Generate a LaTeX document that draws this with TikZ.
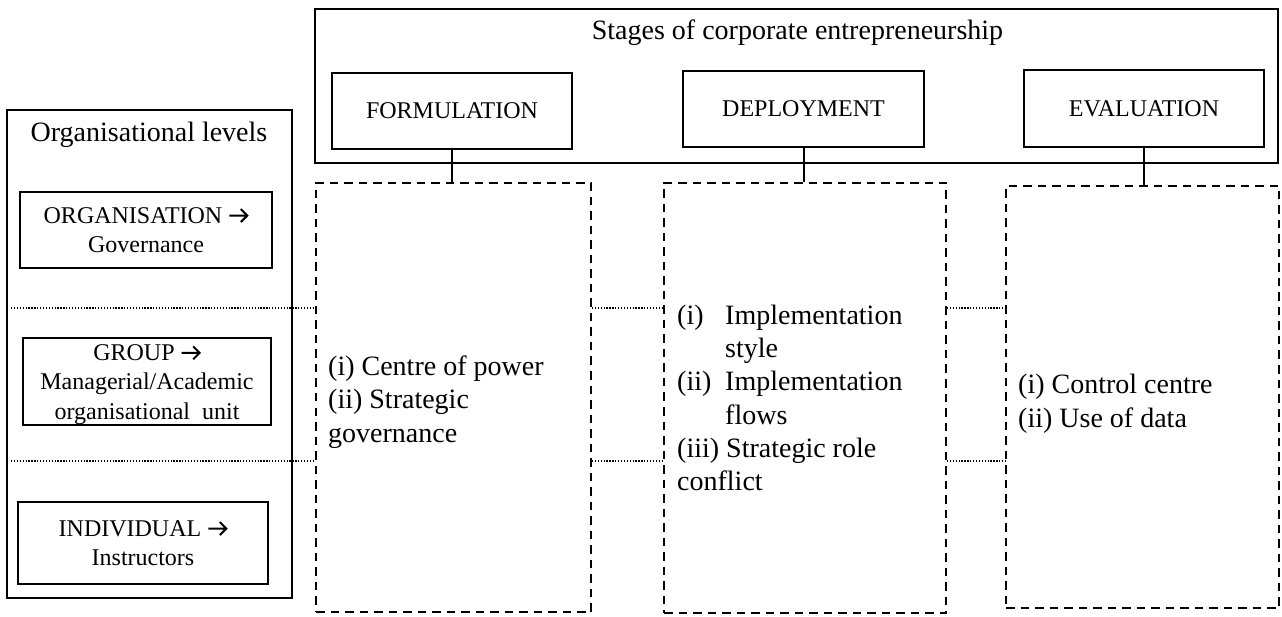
\documentclass[tikz,border=0pt]{standalone}
\usepackage{fontspec}
\setmainfont{Liberation Serif}
% open chevron arrow used after the level names
\newcommand{\chevarrow}{\tikz[baseline=0pt,x=1pt,y=1pt]{\draw[line width=2pt, line join=miter] (0,7.5) -- (18,7.5) (11.5,14) -- (18,7.5) -- (11.5,1);}}
\begin{document}
\begin{tikzpicture}[x=1pt,y=-1pt,
  solidbox/.style={draw, line width=2pt, inner sep=0pt},
  dashbox/.style={draw, line width=1.8pt, dash pattern=on 8.5pt off 6pt, inner sep=0pt},
  dotline/.style={line width=1.8pt, dash pattern=on 1.3pt off 1.6pt},
  link/.style={line width=2pt},
  big/.style={font=\fontsize{28}{33}\selectfont, inner sep=0pt},
  small/.style={font=\fontsize{24}{29.5}\selectfont, align=center, inner sep=0pt},
]
\useasboundingbox (0,0) rectangle (1282,617);

% organisational levels panel
\node[solidbox, minimum width=285pt, minimum height=488pt] (levels) at (149.5,354) {};
\node[big, anchor=base] (levtitle) at (149,142) {Organisational levels};
\node[solidbox, small, minimum width=252pt, minimum height=76pt] (org) at (146,230) {ORGANISATION \chevarrow\\Governance};
\node[solidbox, minimum width=248pt, minimum height=87pt] (group) at (147,381.5) {};
\node[small] (grouptext) at ([yshift=-3pt]group.center) {GROUP \chevarrow\\Managerial/Academic\\organisational~~unit};
\node[solidbox, small, minimum width=250pt, minimum height=82pt] (indiv) at (143,543) {INDIVIDUAL \chevarrow\\Instructors};

% stages panel
\node[solidbox, minimum width=963pt, minimum height=154pt] (stages) at (796.5,86) {};
\node[big, anchor=base] (stitle) at (797.5,40) {Stages of corporate entrepreneurship};
\node[solidbox, small, minimum width=240pt, minimum height=76pt] (form) at (452,111) {FORMULATION};
\node[solidbox, small, minimum width=241pt, minimum height=76pt] (depl) at (803.5,109) {DEPLOYMENT};
\node[solidbox, small, minimum width=240pt, minimum height=77pt] (eval) at (1144,108.5) {EVALUATION};

% dashed content boxes
\node[dashbox, minimum width=275pt, minimum height=429pt] (d1) at (453.5,397.5) {};
\node[dashbox, minimum width=282pt, minimum height=430pt] (d2) at (805,398) {};
\node[dashbox, minimum width=273pt, minimum height=422pt] (d3) at (1142.5,397) {};

% stage connectors
\draw[link] (form.south) -- (form.south |- d1.north);
\draw[link] (depl.south) -- (depl.south |- d2.north);
\draw[link] (eval.south) -- (eval.south |- d3.north);

% level separators
\coordinate (lv1) at (11,308);
\coordinate (lv2) at (11,461);
\foreach \c in {lv1,lv2}{
  \draw[dotline] (\c) -- (\c -| d1.west);
  \draw[dotline] (d1.east |- \c) -- (d2.west |- \c);
  \draw[dotline] (d2.east |- \c) -- (d3.west |- \c);
}

% formulation items
\node[big, anchor=base west] (f1) at (328,375) {(i) Centre of power};
\node[big, anchor=base west] (f2) at (328,408) {(ii) Strategic};
\node[big, anchor=base west] (f3) at (328,442) {governance};

% deployment items
\node[big, anchor=base west] (p1) at (677,325) {(i)};
\node[big, anchor=base west] (p1a) at (725,325) {Implementation};
\node[big, anchor=base west] (p1b) at (725,358) {style};
\node[big, anchor=base west] (p2) at (677,391) {(ii)};
\node[big, anchor=base west] (p2a) at (725,391) {Implementation};
\node[big, anchor=base west] (p2b) at (725,424) {flows};
\node[big, anchor=base west] (p3) at (677,457) {(iii) Strategic role};
\node[big, anchor=base west] (p3b) at (677,490) {conflict};

% evaluation items
\node[big, anchor=base west] (e1) at (1018,393) {(i) Control centre};
\node[big, anchor=base west] (e2) at (1018,427) {(ii) Use of data};
\end{tikzpicture}
\end{document}
